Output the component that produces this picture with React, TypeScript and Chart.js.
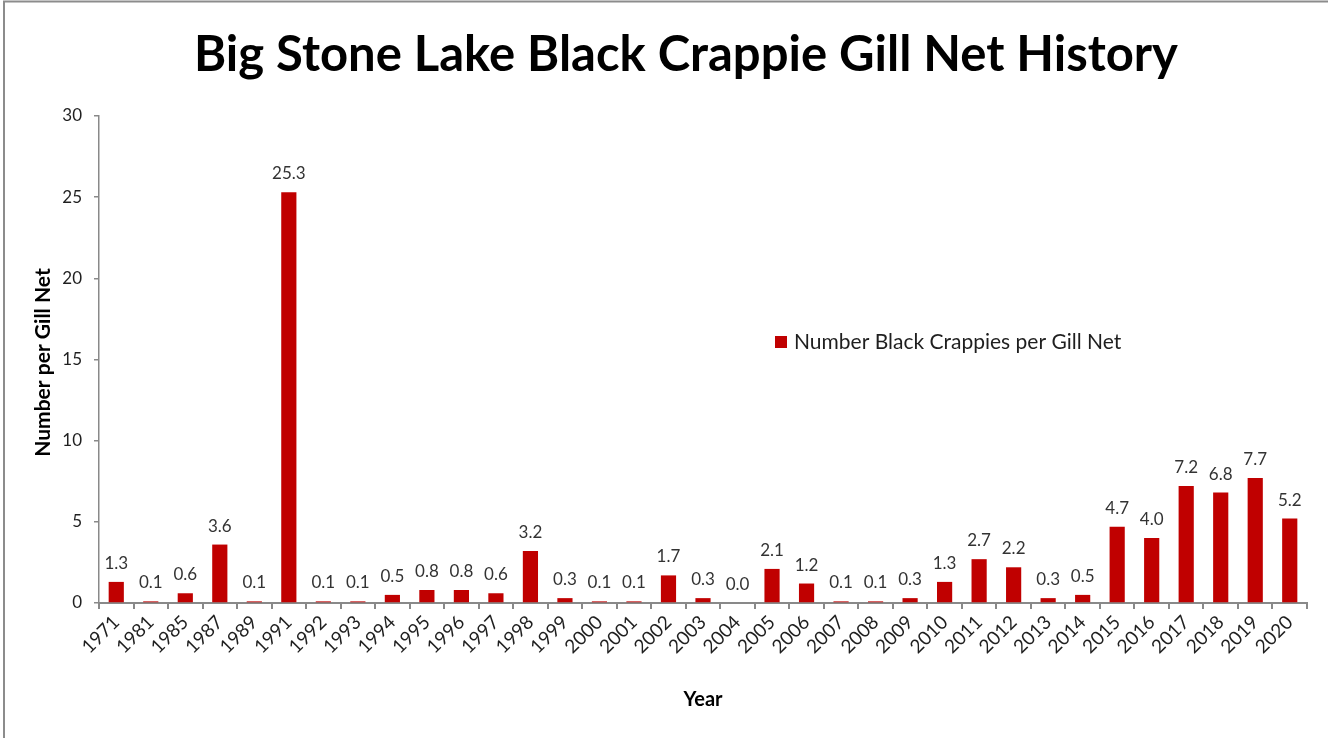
import React, { useEffect, useRef } from "react";
import { Chart, registerables } from "chart.js";

Chart.register(...registerables);

const years = [
  "1971", "1981", "1985", "1987", "1989", "1991", "1992", "1993", "1994", "1995",
  "1996", "1997", "1998", "1999", "2000", "2001", "2002", "2003", "2004", "2005",
  "2006", "2007", "2008", "2009", "2010", "2011", "2012", "2013", "2014", "2015",
  "2016", "2017", "2018", "2019", "2020",
];

const crappiesPerNet = [
  1.3, 0.1, 0.6, 3.6, 0.1, 25.3, 0.1, 0.1, 0.5, 0.8,
  0.8, 0.6, 3.2, 0.3, 0.1, 0.1, 1.7, 0.3, 0.0, 2.1,
  1.2, 0.1, 0.1, 0.3, 1.3, 2.7, 2.2, 0.3, 0.5, 4.7,
  4.0, 7.2, 6.8, 7.7, 5.2,
];

const seriesLabel = "Number Black Crappies per Gill Net";
const chartTitle = "Big Stone Lake Black Crappie Gill Net History";
const yAxisTitle = "Number per Gill Net";
const xAxisTitle = "Year";
const yTicks = [0, 5, 10, 15, 20, 25, 30];

const FONT = "Lato, 'Noto Sans', sans-serif";
const BAR_RED = "#C00000";
const AXIS_GRAY = "#898989";
const TEXT_DARK = "#1f1f1f";

// Frame, title, axis titles, legend and value labels.
const decorations = {
  id: "decorations",
  afterDraw(chart: any) {
    const { ctx, chartArea } = chart;
    ctx.save();

    // outer frame (left and top edges)
    ctx.strokeStyle = "#8c8c8c";
    ctx.lineWidth = 2;
    ctx.beginPath();
    ctx.moveTo(4, 740);
    ctx.lineTo(4, 1.5);
    ctx.lineTo(1330, 1.5);
    ctx.stroke();

    // title
    ctx.fillStyle = "#000";
    ctx.font = `bold 49px ${FONT}`;
    ctx.textAlign = "center";
    ctx.textBaseline = "middle";
    ctx.fillText(chartTitle, 686, 55);

    // axis titles
    ctx.font = `bold 20px ${FONT}`;
    ctx.fillText(xAxisTitle, (chartArea.left + chartArea.right) / 2, 700);
    ctx.save();
    ctx.translate(43, (chartArea.top + chartArea.bottom) / 2 + 3);
    ctx.rotate(-Math.PI / 2);
    ctx.font = `bold 21px ${FONT}`;
    ctx.fillText(yAxisTitle, 0, 0);
    ctx.restore();

    // legend
    const ds = chart.data.datasets[0];
    ctx.fillStyle = ds.backgroundColor;
    ctx.fillRect(775, 336, 12, 12);
    ctx.fillStyle = TEXT_DARK;
    ctx.font = `21px ${FONT}`;
    ctx.textAlign = "left";
    ctx.fillText(ds.label, 794, 342);

    // value labels above bars
    const meta = chart.getDatasetMeta(0);
    ctx.font = `17px ${FONT}`;
    ctx.textAlign = "center";
    ctx.textBaseline = "alphabetic";
    ctx.fillStyle = "#333333";
    meta.data.forEach((bar: any, i: number) => {
      const v = ds.data[i] as number;
      ctx.fillText(v.toFixed(1), bar.x, bar.y - 13);
    });

    ctx.restore();
  },
};

export default function App() {
  const canvasRef = useRef<HTMLCanvasElement | null>(null);

  useEffect(() => {
    if (!canvasRef.current) return;
    const chart = new Chart(canvasRef.current, {
      type: "bar",
      data: {
        labels: years,
        datasets: [
          {
            label: seriesLabel,
            data: crappiesPerNet,
            backgroundColor: BAR_RED,
            barPercentage: 0.44,
            categoryPercentage: 1,
          },
        ],
      },
      options: {
        animation: false,
        responsive: false,
        maintainAspectRatio: false,
        layout: { padding: { top: 116, right: 21, left: 0, bottom: 0 } },
        plugins: {
          legend: { display: false },
          tooltip: { enabled: false },
          title: { display: false },
        },
        scales: {
          x: {
            afterFit(scale: any) {
              scale.height = 135;
            },
            grid: {
              display: true,
              drawOnChartArea: false,
              drawTicks: true,
              tickLength: 6,
              color: AXIS_GRAY,
              lineWidth: 2,
              offset: true,
            },
            border: { color: AXIS_GRAY, width: 2 },
            ticks: {
              minRotation: 45,
              maxRotation: 45,
              autoSkip: false,
              padding: 2,
              color: TEXT_DARK,
              font: { family: FONT, size: 19 },
            },
          },
          y: {
            min: 0,
            max: 30,
            afterFit(scale: any) {
              scale.width = 99;
            },
            afterBuildTicks(scale: any) {
              scale.ticks = yTicks.map((v) => ({ value: v }));
            },
            grid: {
              display: true,
              drawOnChartArea: false,
              drawTicks: true,
              tickLength: 5,
              color: AXIS_GRAY,
              lineWidth: 1.5,
            },
            border: { color: AXIS_GRAY, width: 1.5 },
            ticks: {
              padding: 12,
              color: TEXT_DARK,
              font: { family: FONT, size: 17 },
            },
          },
        },
      },
      plugins: [decorations],
    });
    return () => chart.destroy();
  }, []);

  return (
    <div
      style={{
        position: "fixed",
        left: 0,
        top: 0,
        width: 1328,
        height: 738,
        background: "#fff",
      }}
    >
      <canvas ref={canvasRef} width={1328} height={738} style={{ width: 1328, height: 738 }} />
    </div>
  );
}
